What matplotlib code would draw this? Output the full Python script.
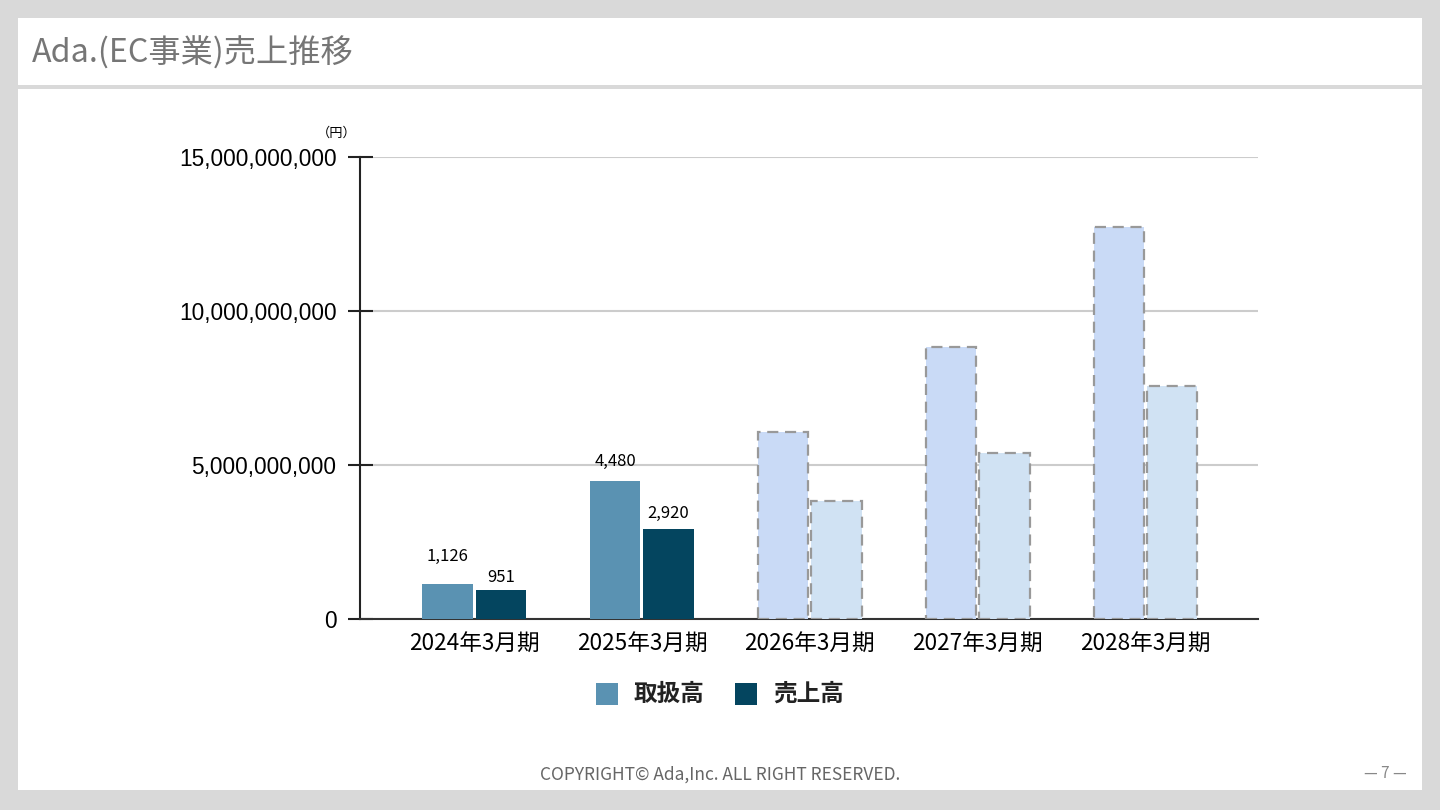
import numpy as np
import matplotlib.pyplot as plt
from matplotlib.patches import Rectangle

plt.rcParams['font.family'] = ['Noto Sans CJK JP', 'DejaVu Sans']

# data
periods = ['2024年3月期', '2025年3月期', '2026年3月期', '2027年3月期', '2028年3月期']
gmv = [1.126e9, 4.48e9, 6.07e9, 8.83e9, 12.73e9]      # 取扱高
sales = [0.951e9, 2.92e9, 3.83e9, 5.39e9, 7.56e9]     # 売上高
is_forecast = [False, False, True, True, True]
gmv_labels = ['1,126', '4,480', '', '', '']
sales_labels = ['951', '2,920', '', '', '']
yticks = [0, 5e9, 10e9, 15e9]

W, H = 1440, 810
fig = plt.figure(figsize=(14.4, 8.1), dpi=100)
fig.patch.set_facecolor('#d9d9d9')

def px(x, y, w, h):
	return (x / W, 1 - (y + h) / H, w / W, h / H)

# white page + title bar
for (x, y, w, h) in [(18, 18, 1404, 67), (18, 89, 1404, 701)]:
	l, b, ww, hh = px(x, y, w, h)
	fig.patches.append(Rectangle((l, b), ww, hh, transform=fig.transFigure,
		facecolor='white', edgecolor='none', zorder=0))

fig.text(32 / W, 1 - 53 / H, 'Ada.(EC事業)売上推移', fontsize=23.2, color='#767676',
	va='center', ha='left')

ax = fig.add_axes([360 / W, 1 - 619 / H, (1258 - 360) / W, (619 - 157) / H])
ax.set_facecolor('none')
ax.set_zorder(5)

x = np.arange(len(periods))
bw = 0.30
gap = 0.009
c_gmv, c_sales = '#5a92b2', '#04455f'
f_gmv, f_sales = '#c9daf6', '#d0e2f3'

for i in x:
	if is_forecast[i]:
		ax.bar(i - bw / 2 - gap, gmv[i], bw, color=f_gmv, edgecolor='#999999',
			linestyle=(0, (5, 3)), linewidth=1.6, zorder=3)
		ax.bar(i + bw / 2 + gap, sales[i], bw, color=f_sales, edgecolor='#999999',
			linestyle=(0, (5, 3)), linewidth=1.6, zorder=3)
	else:
		ax.bar(i - bw / 2 - gap, gmv[i], bw, color=c_gmv, zorder=3)
		ax.bar(i + bw / 2 + gap, sales[i], bw, color=c_sales, zorder=3)

gmv_off = [14, 8]
sales_off = [3, 5]
for i in x:
	if gmv_labels[i]:
		ax.annotate(gmv_labels[i], (i - bw / 2 - gap, gmv[i]), xytext=(0, gmv_off[i]),
			textcoords='offset points', ha='center', va='bottom', fontsize=12)
	if sales_labels[i]:
		ax.annotate(sales_labels[i], (i + bw / 2 + gap, sales[i]), xytext=(0, sales_off[i]),
			textcoords='offset points', ha='center', va='bottom', fontsize=12)

ax.set_xlim(-0.68, 4.67)
ax.set_ylim(0, 15e9)
ax.set_yticks(yticks)
ax.set_yticklabels(['{:,.0f}'.format(v) for v in yticks], fontsize=16.3)
ax.set_xticks(x)
ax.set_xticklabels(periods, fontsize=16.3)
ax.tick_params(axis='y', direction='inout', length=18, width=1.5, color='#222222', pad=8,
	labelfontfamily='Liberation Sans')
ax.tick_params(axis='x', length=0, pad=10)
ax.yaxis.grid(True, color='#cccccc', linewidth=1.5, zorder=0)
ax.set_axisbelow(True)
for s in ['top', 'right']:
	ax.spines[s].set_visible(False)
ax.spines['left'].set_linewidth(1.5)
ax.spines['left'].set_color('#222222')
ax.spines['bottom'].set_linewidth(1.5)
ax.spines['bottom'].set_color('#333333')

fig.text(337 / W, 1 - 133 / H, '（円）', fontsize=9.5, ha='center', va='center')

# legend
for (lx, c, lab) in [(607, c_gmv, '取扱高'), (746, c_sales, '売上高')]:
	l, b, ww, hh = px(lx - 11, 683, 22, 22)
	fig.patches.append(Rectangle((l, b), ww, hh, transform=fig.transFigure,
		facecolor=c, edgecolor='none'))
	fig.text((lx + 27) / W, 1 - 694 / H, lab, fontsize=17, fontweight='bold',
		color='#222222', ha='left', va='center')

fig.text(720 / W, 1 - 775 / H, 'COPYRIGHT© Ada,Inc. ALL RIGHT RESERVED.', fontsize=12.5,
	color='#666666', ha='center', va='center')
fig.text(1385 / W, 1 - 774 / H, '— 7 —', fontsize=11, color='#888888', ha='center', va='center')

fig.savefig('out.png', dpi=100, facecolor=fig.get_facecolor())
